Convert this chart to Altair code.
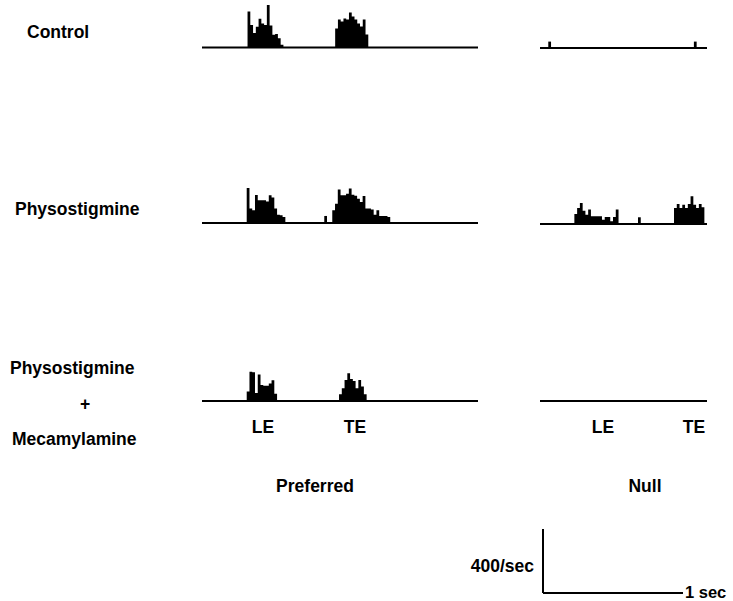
import altair as alt
import pandas as pd

# ---------------- data (spikes/sec per 20 ms bin) ----------------
BIN = 0.02            # s
PREF_SPAN = 2.0       # s shown in each "Preferred" histogram
NULL_SPAN = 1.21      # s shown in each "Null" histogram
RATE_MAX = 400        # spikes/sec represented by the calibration bar

# Control
ctrl_pref_onsets = [0.33, 0.965]
ctrl_pref_le = [225, 140, 90, 130, 180, 150, 140, 265, 138, 80, 85, 58, 17]
ctrl_pref_te = [119, 175, 163, 181, 175, 219, 194, 175, 150, 131, 175, 81]
ctrl_null_onsets = [0.06, 1.115]
ctrl_null_a = [40]
ctrl_null_b = [40]

# Physostigmine
phys_pref_onsets = [0.324, 0.886, 0.944]
phys_pref_le = [219, 90, 80, 175, 142, 142, 142, 135, 173, 160, 90, 52, 48, 37]
phys_pref_blip = [44]
phys_pref_te = [79, 121, 210, 173, 173, 183, 215, 177, 170, 152, 131, 169,
                90, 90, 85, 52, 79, 44, 44, 44, 37]
phys_null_onsets = [0.249, 0.71, 0.971]
phys_null_le = [62, 100, 131, 83, 58, 90, 48, 48, 48, 48, 27, 44, 44, 17, 44, 90]
phys_null_blip = [42]
phys_null_te = [100, 125, 100, 121, 100, 125, 173, 121, 100, 125, 105]

# Physostigmine + Mecamylamine
mec_pref_onsets = [0.324, 0.993]
mec_pref_le = [60, 183, 180, 50, 165, 100, 95, 95, 110, 130, 45]
mec_pref_te = [42, 79, 131, 173, 138, 125, 79, 131, 90, 42]
mec_null_onsets = []

row_labels = ["Control", "Physostigmine", "Physostigmine", "+", "Mecamylamine"]
event_labels = ["LE", "TE"]
column_labels = ["Preferred", "Null"]
calib_labels = ["400/sec", "1 sec"]

# ---------------- layout (pixels) ----------------
PREF_X = (202, 478)
NULL_X = (540, 707)
ROW_BASE = [47.5, 223, 401]
BAR_PX = 64          # pixels for RATE_MAX
SEC_PX = 140
CAL_ORIGIN = (543, 593)
FONT = "Liberation Sans"


def hist_df(onsets, bursts):
    """Step outline of each burst: one point per bin start, plus a closing point."""
    rows = []
    for b, (on, rates) in enumerate(zip(onsets, bursts)):
        for i, r in enumerate(rates):
            rows.append({"burst": b, "t": on + i * BIN, "rate": r})
        rows.append({"burst": b, "t": on + len(rates) * BIN, "rate": 0})
    return pd.DataFrame(rows, columns=["burst", "t", "rate"])


def xscale(span, rng):
    return alt.Scale(domain=[0, span], range=list(rng), nice=False, zero=False)


def yscale(base):
    return alt.Scale(domain=[0, RATE_MAX], range=[base, base - BAR_PX], nice=False)


def panel(df, span, rng, base):
    layers = []
    for b in sorted(df["burst"].unique()) if len(df) else []:
        sub = df[df["burst"] == b]
        layers.append(
            alt.Chart(sub).mark_area(color="black", interpolate="step-after", opacity=1,
                                     fillOpacity=1).encode(
                x=alt.X("t:Q", scale=xscale(span, rng), axis=None),
                y=alt.Y("rate:Q", scale=yscale(base), axis=None, stack=None),
            )
        )
    layers.append(
        alt.Chart(pd.DataFrame({"start": [0], "end": [span], "level": [0]}))
        .mark_rule(color="black", strokeWidth=2.2)
        .encode(
            x=alt.X("start:Q", scale=xscale(span, rng), axis=None),
            x2="end:Q",
            y=alt.Y("level:Q", scale=yscale(base), axis=None),
        )
    )
    return layers


def label(text, x, y, align="left", size=17.5, weight="bold"):
    return alt.Chart(pd.DataFrame({"t": [text]})).mark_text(
        font=FONT, fontSize=size, fontWeight=weight, align=align,
        baseline="middle", color="black"
    ).encode(text="t:N", x=alt.value(x), y=alt.value(y))


layers = []
layers += panel(hist_df(ctrl_pref_onsets, [ctrl_pref_le, ctrl_pref_te]), PREF_SPAN, PREF_X, ROW_BASE[0])
layers += panel(hist_df(ctrl_null_onsets, [ctrl_null_a, ctrl_null_b]), NULL_SPAN, NULL_X, ROW_BASE[0] + 0.5)
layers += panel(hist_df(phys_pref_onsets, [phys_pref_le, phys_pref_blip, phys_pref_te]), PREF_SPAN, PREF_X, ROW_BASE[1])
layers += panel(hist_df(phys_null_onsets, [phys_null_le, phys_null_blip, phys_null_te]), NULL_SPAN, NULL_X, ROW_BASE[1] + 1)
layers += panel(hist_df(mec_pref_onsets, [mec_pref_le, mec_pref_te]), PREF_SPAN, PREF_X, ROW_BASE[2])
layers += panel(hist_df(mec_null_onsets, []), NULL_SPAN, NULL_X, ROW_BASE[2])

# calibration bars: 400/sec vertical, 1 sec horizontal
cal_x = alt.Scale(domain=[0, 1], range=[CAL_ORIGIN[0], CAL_ORIGIN[0] + SEC_PX], nice=False)
cal_y = alt.Scale(domain=[0, RATE_MAX], range=[CAL_ORIGIN[1], CAL_ORIGIN[1] - BAR_PX], nice=False)
cal = pd.DataFrame({"t0": [0, 0], "t1": [0, 1], "r0": [0, 0], "r1": [RATE_MAX, 0]})
layers.append(
    alt.Chart(cal).mark_rule(color="black", strokeWidth=2).encode(
        x=alt.X("t0:Q", scale=cal_x, axis=None),
        x2="t1:Q",
        y=alt.Y("r0:Q", scale=cal_y, axis=None),
        y2="r1:Q",
    )
)

# text
layers += [
    label(row_labels[0], 27, 33),
    label(row_labels[1], 15, 210),
    label(row_labels[2], 10, 369),
    label(row_labels[3], 85, 405, align="center"),
    label(row_labels[4], 12, 440),
    label(event_labels[0], 263, 428, align="center"),
    label(event_labels[1], 355, 428, align="center"),
    label(event_labels[0], 603, 428, align="center"),
    label(event_labels[1], 694, 428, align="center"),
    label(column_labels[0], 315, 487, align="center"),
    label(column_labels[1], 645, 487, align="center"),
    label(calib_labels[0], 534, 567, align="right"),
    label(calib_labels[1], 685, 593, align="left", size=16.5),
]

chart = (
    alt.layer(*layers)
    .resolve_scale(x="independent", y="independent")
    .properties(width=733, height=601, autosize=alt.AutoSizeParams(type="none"), padding=0,
                background="white")
    .configure_view(strokeWidth=0)
)

chart.save("out.html", embed_options={"renderer": "svg", "actions": False})
